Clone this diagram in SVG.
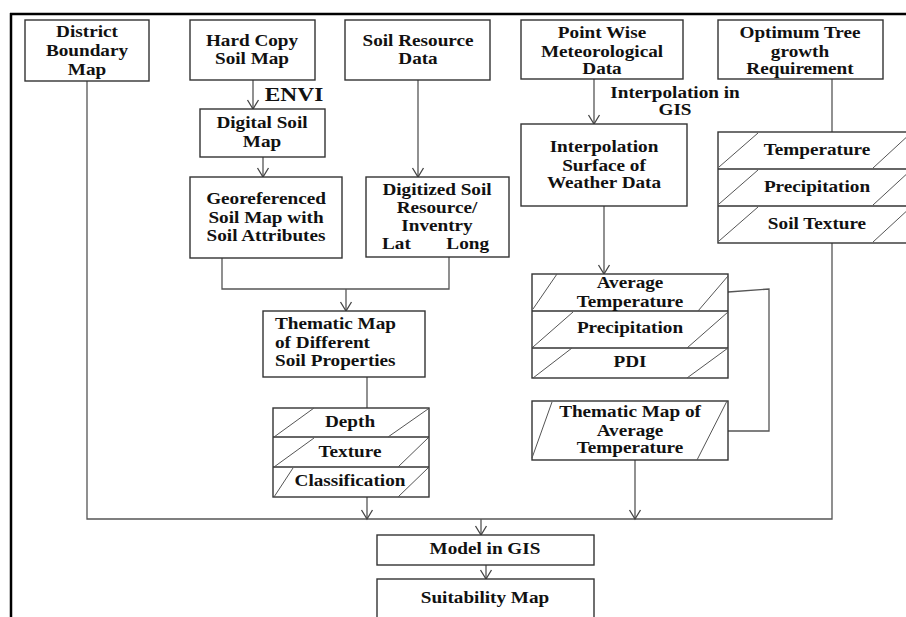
<svg xmlns="http://www.w3.org/2000/svg" width="906" height="617" viewBox="0 0 906 617">
<defs>
<style>
.box{fill:#fff;stroke:#333;stroke-width:1.4}
.dg{stroke:#555;stroke-width:1;fill:none}
.sep{stroke:#333;stroke-width:1.4}
.cn{fill:none;stroke:#555;stroke-width:1.3}
.t{font-family:"Liberation Serif","Times New Roman",serif;font-weight:bold;font-size:16px;fill:#111;text-anchor:middle}
.s{text-anchor:start}
.e{text-anchor:end}
</style>
<marker id="ah" viewBox="-10 -7 12 14" refX="0" refY="0" markerWidth="12" markerHeight="14" markerUnits="userSpaceOnUse" orient="auto">
<path d="M-9,-5.5 L0,0 L-9,5.5" fill="none" stroke="#444" stroke-width="1.3"/>
</marker>
</defs>
<rect width="906" height="617" fill="#fff"/>
<g id="frame">
<line x1="10" y1="14" x2="906" y2="14" stroke="#000" stroke-width="2.5"/>
<line x1="11" y1="13" x2="11" y2="617" stroke="#000" stroke-width="2.5"/>
</g>
<g id="connectors">
<path class="cn" d="M87,81 V519 H832 V243"/>
<path class="cn" d="M832,79 V132"/>
<path class="cn" d="M253,80 V109" marker-end="url(#ah)"/>
<path class="cn" d="M263,157 V177" marker-end="url(#ah)"/>
<path class="cn" d="M418,80 V177" marker-end="url(#ah)"/>
<path class="cn" d="M222,258 V289 H449 V257"/>
<path class="cn" d="M346,289 V311" marker-end="url(#ah)"/>
<path class="cn" d="M367,377 V408"/>
<path class="cn" d="M367,497 V519" marker-end="url(#ah)"/>
<path class="cn" d="M594,79 V124" marker-end="url(#ah)"/>
<path class="cn" d="M604,206 V274" marker-end="url(#ah)"/>
<path class="cn" d="M728,292 L769,289 V431 H728"/>
<path class="cn" d="M635,460 V519" marker-end="url(#ah)"/>
<path class="cn" d="M481,519 V535" marker-end="url(#ah)"/>
<path class="cn" d="M486,565 V579" marker-end="url(#ah)"/>
<text class="t" transform="translate(294,0) scale(1.3,1)" font-size="18" style="font-size:18px" y="101">ENVI</text>
<text class="t" transform="translate(675,0) scale(1.2,1)"><tspan x="0" y="98">Interpolation in</tspan><tspan x="0" y="115">GIS</tspan></text>
</g>
<g id="district">
<rect class="box" x="25" y="20" width="124" height="61"/>
<text class="t" transform="translate(87,0) scale(1.2,1)"><tspan x="0" y="37">District</tspan><tspan x="0" y="56">Boundary</tspan><tspan x="0" y="75">Map</tspan></text>
</g>
<g id="hardcopy">
<rect class="box" x="190" y="20" width="125" height="60"/>
<text class="t" transform="translate(252,0) scale(1.2,1)"><tspan x="0" y="46">Hard Copy</tspan><tspan x="0" y="64">Soil Map</tspan></text>
</g>
<g id="digital">
<rect class="box" x="200" y="109" width="125" height="48"/>
<text class="t" transform="translate(262,0) scale(1.2,1)"><tspan x="0" y="128">Digital Soil</tspan><tspan x="0" y="147">Map</tspan></text>
</g>
<g id="georef">
<rect class="box" x="190" y="177" width="152" height="81"/>
<text class="t" transform="translate(266,0) scale(1.2,1)"><tspan x="0" y="204">Georeferenced</tspan><tspan x="0" y="223">Soil Map with</tspan><tspan x="0" y="241">Soil Attributes</tspan></text>
</g>
<g id="soilres">
<rect class="box" x="345" y="20" width="145" height="60"/>
<text class="t" transform="translate(418,0) scale(1.2,1)"><tspan x="0" y="46">Soil Resource</tspan><tspan x="0" y="64">Data</tspan></text>
</g>
<g id="digitized">
<rect class="box" x="366" y="177" width="143" height="80"/>
<text class="t" transform="translate(437,0) scale(1.2,1)"><tspan x="0" y="195">Digitized Soil</tspan><tspan x="0" y="213">Resource/</tspan><tspan x="0" y="231">Inventry</tspan></text>
<text class="t s" transform="translate(382,0) scale(1.2,1)" y="249">Lat</text>
<text class="t e" transform="translate(489,0) scale(1.2,1)" y="249">Long</text>
</g>
<g id="thematicsoil">
<rect class="box" x="263" y="311" width="162" height="66"/>
<text class="t s" transform="translate(275,0) scale(1.2,1)"><tspan x="0" y="329">Thematic Map</tspan><tspan x="0" y="348">of Different</tspan><tspan x="0" y="366">Soil Properties</tspan></text>
</g>
<g id="soilprops">
<rect class="box" x="273" y="408" width="156" height="89"/>
<line class="sep" x1="273" y1="437" x2="429" y2="437"/>
<line class="sep" x1="273" y1="467" x2="429" y2="467"/>
<line class="dg" x1="274" y1="437" x2="314" y2="408"/>
<line class="dg" x1="388" y1="437" x2="428" y2="409"/>
<line class="dg" x1="274" y1="467" x2="314" y2="438"/>
<line class="dg" x1="398" y1="467" x2="428" y2="438"/>
<line class="dg" x1="274" y1="497" x2="293" y2="468"/>
<line class="dg" x1="398" y1="497" x2="428" y2="468"/>
<text class="t" transform="translate(350,0) scale(1.2,1)"><tspan x="0" y="427">Depth</tspan><tspan x="0" y="457">Texture</tspan><tspan x="0" y="486">Classification</tspan></text>
</g>
<g id="pointwise">
<rect class="box" x="521" y="20" width="162" height="59"/>
<text class="t" transform="translate(602,0) scale(1.2,1)"><tspan x="0" y="38">Point Wise</tspan><tspan x="0" y="57">Meteorological</tspan><tspan x="0" y="74">Data</tspan></text>
</g>
<g id="interp">
<rect class="box" x="521" y="124" width="166" height="82"/>
<text class="t" transform="translate(604,0) scale(1.2,1)"><tspan x="0" y="152">Interpolation</tspan><tspan x="0" y="171">Surface of</tspan><tspan x="0" y="188">Weather Data</tspan></text>
</g>
<g id="optimum">
<rect class="box" x="718" y="20" width="165" height="59"/>
<text class="t" transform="translate(800,0) scale(1.2,1)"><tspan x="0" y="38">Optimum Tree</tspan><tspan x="0" y="57">growth</tspan><tspan x="0" y="74">Requirement</tspan></text>
</g>
<g id="treereq">
<rect class="box" x="718" y="132" width="200" height="111"/>
<line class="sep" x1="718" y1="169" x2="918" y2="169"/>
<line class="sep" x1="718" y1="206" x2="918" y2="206"/>
<line class="dg" x1="719" y1="167" x2="758" y2="133"/>
<line class="dg" x1="873" y1="168" x2="911" y2="133"/>
<line class="dg" x1="719" y1="204" x2="758" y2="170"/>
<line class="dg" x1="873" y1="205" x2="911" y2="170"/>
<line class="dg" x1="719" y1="241" x2="758" y2="207"/>
<line class="dg" x1="873" y1="242" x2="911" y2="207"/>
<text class="t" transform="translate(817,0) scale(1.2,1)"><tspan x="0" y="155">Temperature</tspan><tspan x="0" y="192">Precipitation</tspan><tspan x="0" y="229">Soil Texture</tspan></text>
</g>
<g id="weather">
<rect class="box" x="532" y="274" width="196" height="104"/>
<line class="sep" x1="532" y1="311" x2="728" y2="311"/>
<line class="sep" x1="532" y1="348" x2="728" y2="348"/>
<line class="dg" x1="533" y1="309" x2="557" y2="274"/>
<line class="dg" x1="698" y1="311" x2="728" y2="276"/>
<line class="dg" x1="533" y1="347" x2="573" y2="312"/>
<line class="dg" x1="687" y1="348" x2="728" y2="312"/>
<line class="dg" x1="533" y1="378" x2="572" y2="348"/>
<line class="dg" x1="687" y1="378" x2="728" y2="348"/>
<text class="t" transform="translate(630,0) scale(1.2,1)"><tspan x="0" y="288">Average</tspan><tspan x="0" y="307">Temperature</tspan><tspan x="0" y="333">Precipitation</tspan><tspan x="0" y="367">PDI</tspan></text>
</g>
<g id="thematictemp">
<rect class="box" x="532" y="401" width="196" height="59"/>
<line class="dg" x1="532" y1="458" x2="552" y2="402"/>
<line class="dg" x1="697" y1="460" x2="727" y2="401"/>
<text class="t" transform="translate(630,0) scale(1.2,1)"><tspan x="0" y="417">Thematic Map of</tspan><tspan x="0" y="436">Average</tspan><tspan x="0" y="453">Temperature</tspan></text>
</g>
<g id="model">
<rect class="box" x="377" y="535" width="217" height="30"/>
<text class="t" transform="translate(485,0) scale(1.2,1)" y="554">Model in GIS</text>
</g>
<g id="suitability">
<rect class="box" x="377" y="579" width="217" height="45"/>
<text class="t" transform="translate(485,0) scale(1.2,1)" y="603">Suitability Map</text>
</g>
</svg>
